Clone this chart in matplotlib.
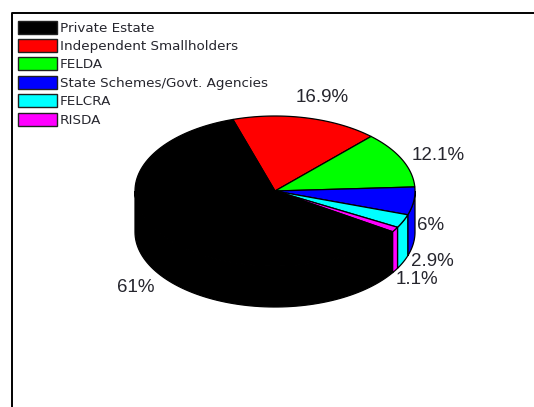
import numpy as np
import matplotlib
matplotlib.use('Agg')
import matplotlib.pyplot as plt
from matplotlib.patches import Polygon, Rectangle

labels = ['Private Estate', 'Independent Smallholders', 'FELDA',
          'State Schemes/Govt. Agencies', 'FELCRA', 'RISDA']
values = [61, 16.9, 12.1, 6, 2.9, 1.1]
pct_labels = ['61%', '16.9%', '12.1%', '6%', '2.9%', '1.1%']
colors = ['#000000', '#ff0000', '#00ff00', '#0000ff', '#00ffff', '#ff00ff']

# pie geometry, all in image pixels
cx, cy = 275, 191
rx, ry = 140, 75
depth = 41
start = 107.5  # where the first slice ends, going counter clockwise

# where the percent labels sit
label_pos = [(136, 288), (322, 98), (438, 155), (431, 225), (432, 261), (417, 279)]


def ell(a):
    a = np.radians(a)
    return cx + rx * np.cos(a), cy - ry * np.sin(a)


fig = plt.figure(figsize=(5.34, 4.07), dpi=100)
ax = fig.add_axes([0, 0, 1, 1])
ax.set_xlim(0, 534)
ax.set_ylim(407, 0)
ax.axis('off')

# slice angles: black runs from start backwards round the circle
fracs = np.array(values) / sum(values) * 360
# order clockwise from start: red, green, blue, cyan, magenta, black
order = [1, 2, 3, 4, 5, 0]
angle = start
spans = {}
for i in order:
    spans[i] = (angle, angle - fracs[i])
    angle -= fracs[i]

# side walls first, only the front half of the rim shows
for i in order:
    a0, a1 = spans[i]
    hi = min(a0, 0)
    lo = max(a1, -180)
    if hi <= lo:
        continue
    t = np.linspace(hi, lo, 80)
    x, y = ell(t)
    pts = np.r_[np.c_[x, y], np.c_[x, y + depth][::-1]]
    ax.add_patch(Polygon(pts, closed=True, facecolor=colors[i], edgecolor='black', lw=0.9))

# top of the pie
for i in order:
    a0, a1 = spans[i]
    t = np.linspace(a0, a1, 120)
    x, y = ell(t)
    pts = np.r_[[[cx, cy]], np.c_[x, y]]
    ax.add_patch(Polygon(pts, closed=True, facecolor=colors[i], edgecolor='black', lw=0.9))

for txt, (x, y) in zip(pct_labels, label_pos):
    ax.text(x, y, txt, fontsize=13.5, family='Liberation Sans', color='#26262e',
            ha='center', va='center')

# legend
for k, (name, c) in enumerate(zip(labels, colors)):
    y = 27 + k * 18.4
    ax.add_patch(Rectangle((18, y - 6.5), 39, 13, facecolor=c, edgecolor='#202020', lw=1))
    ax.text(60, y + 1, name, fontsize=9.7, family='DejaVu Sans', color='#26262e', va='center')

# frame, only top and left are in the crop
ax.plot([11.5, 11.5, 534], [407, 12.5, 12.5], color='black', lw=1.4, solid_capstyle='butt')

fig.savefig('out.png', dpi=100)
